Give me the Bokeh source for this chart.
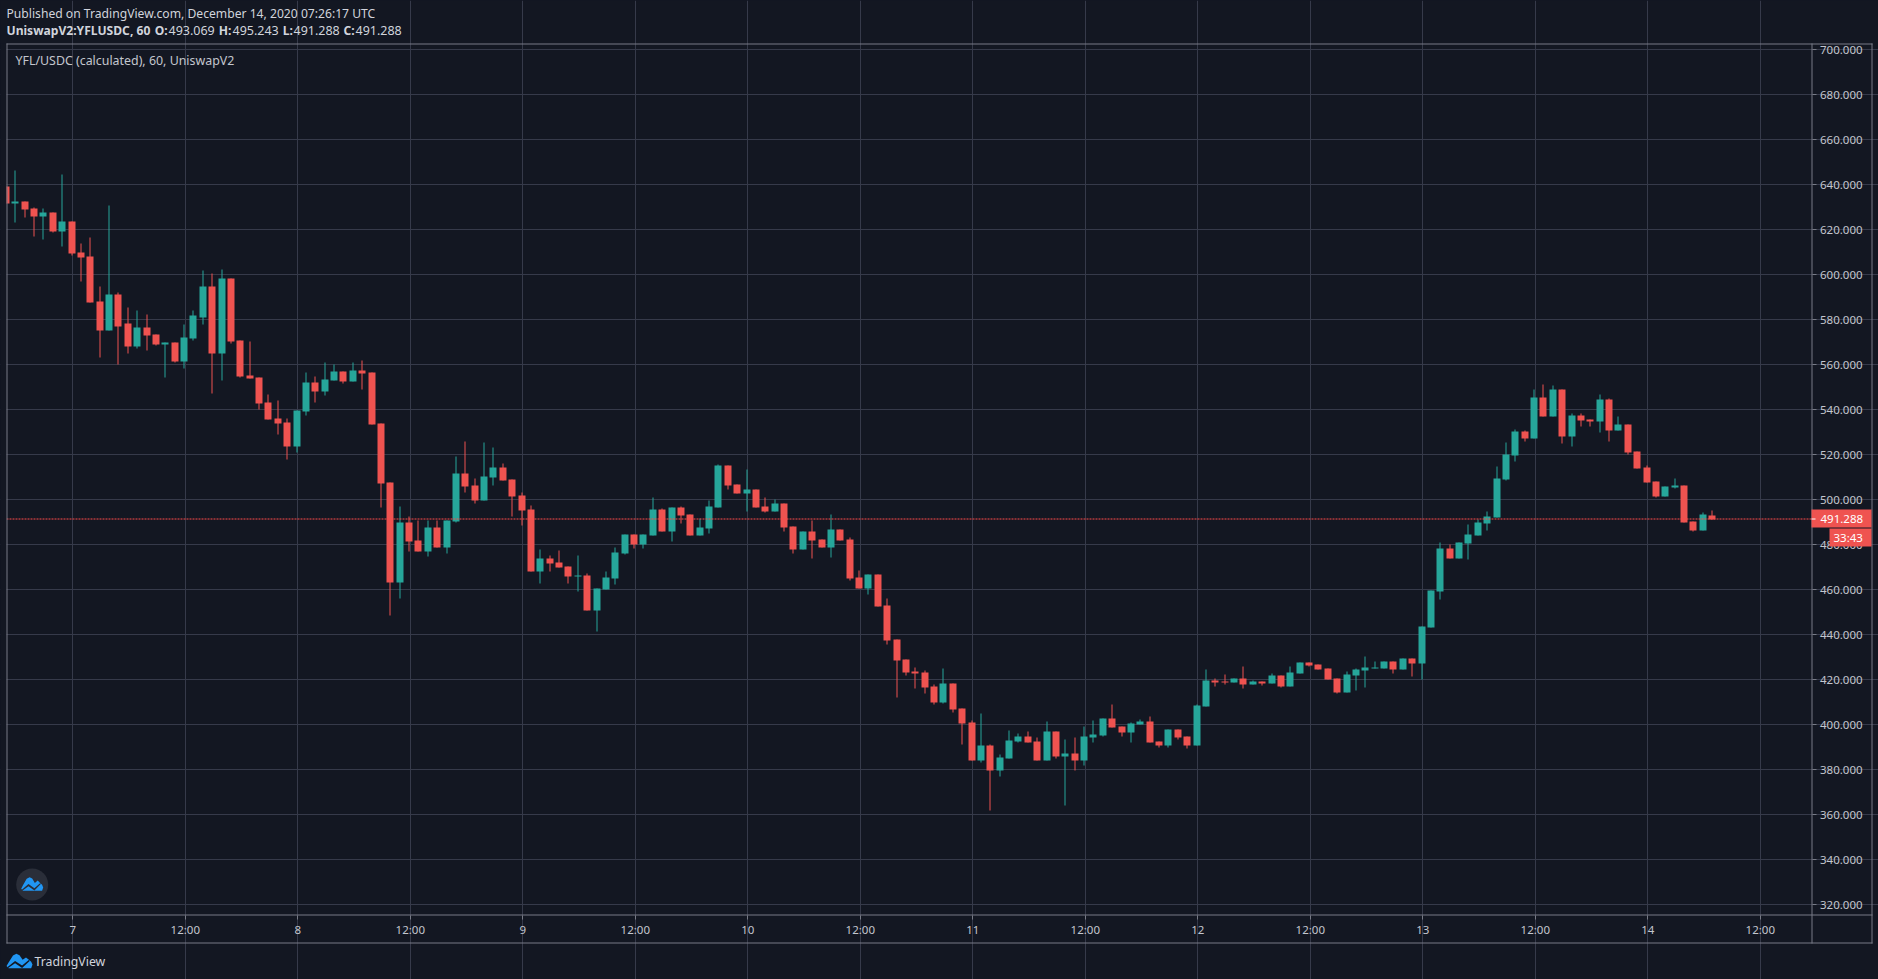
import math
from bokeh.plotting import figure
from bokeh.embed import file_html
from bokeh.resources import INLINE
from bokeh.models import (Range1d, FixedTicker, NumeralTickFormatter, Label,
                          BoxAnnotation, PolyAnnotation)

# hours relative to 7 December 00:00, one candle per hour
hours = list(range(-7, 176))
opens = [639.3,631.7,632.6,629.5,625.9,627.7,619.3,623.7,610,608.2,588.1,575.2,591.3,578.4,568.1,576.6,573.5,569.1,570,561.6,571.8,581,594.9,565,598.4,570.7,555.2,554.3,543.2,536.1,534.3,523.7,539.2,552.1,548.1,553,557,552.6,557.5,556.6,533.9,507.8,463.4,490,482,477.1,487.8,478.9,490.5,511.8,506.4,499.7,509.9,514.4,509,501.9,495.7,468.2,473.9,472.2,470.4,466,466.4,450.9,460.2,465.1,476.2,484.6,480.2,484.2,495.7,485.9,496.6,493.5,484.2,487.3,496.6,515.2,506.8,502.8,504.6,497,494.8,498.4,488.2,478,485.9,482.4,478.8,486.8,482.4,465.5,460.6,466.8,453.1,438,429.1,423.8,423.3,417,409.9,418.4,407.3,401.1,384.2,390.8,379.7,385.1,392.6,394.8,392.6,384.2,397.1,386,387.3,384.2,394.4,395.3,402.8,399.3,396.6,400.2,401.5,392.6,390.8,397.9,394.8,390.8,408.2,419.7,419.3,418.8,420.6,417.9,419.3,418.4,421.9,417,422.8,427.7,426.8,425,420.6,414.4,421.9,424.2,425.1,425.1,428.2,424.7,429.6,427.3,443.3,459.3,478.4,474,480.6,484.2,489.5,492.2,509,519.7,530.3,527.2,545.4,537,549,528.1,537.4,535.7,534.8,544.5,530.8,533.4,521.5,514.4,508.1,501.5,505.5,506.4,490.4,486.4,493.069]
highs = [639.3,646.4,632.6,630,629.5,627.7,644.6,623.7,614,616.6,594.9,630.8,592.2,585.6,584.2,582.4,573.5,570,570,577.9,584.2,602,600.5,602.4,598.4,570.7,570.3,554.3,546.7,544.1,536.1,539.7,556.6,554.8,561.1,560.2,557,561.1,561.9,556.6,533.9,507.8,497.1,492.7,490.9,490.9,490.9,490.9,519.3,525.9,509.5,525.5,523.2,516.1,509,503.3,497.5,477.9,475.3,477.5,470.4,475.3,467.3,460.6,468.2,478.8,484.6,484.6,484.6,501,496.2,496.6,497,493.5,491.7,499.7,515.7,515.2,506.8,513.5,504.6,501,500.1,498.4,488.2,485.9,490.8,482.4,493.5,486.8,483.3,468.6,466.8,466.8,456.2,438,429.1,425.6,424.1,417.9,425,418.4,407.3,402,405,391.4,386.8,397.5,396.2,397.1,394.4,401.5,397.1,393.5,394.4,399.3,401.9,402.8,409,399.3,401,402.4,403.7,392.6,397.9,397.9,394.8,409,424.6,420.6,422.4,420.6,425.9,419.7,419.3,422.8,421.9,425.9,427.7,427.7,426.8,425,420.6,423.7,425.1,430.4,428.2,428.2,428.2,429.6,429.6,443.8,459.7,481.1,480.2,481.1,489,491.3,494.8,514.8,525.5,531.2,530.8,549,551.2,550.8,549,538.3,538.3,535.7,546.8,545,537,533.4,521.5,515.2,508.1,505.9,509.5,506.4,490.4,494.4,495.243]
lows = [631.9,623.4,625.5,617.1,615.7,618.8,612.6,608.6,597.1,587.7,563.3,575.2,560.1,565,567.3,566.4,568.6,554.5,561.1,558.5,570.9,577.9,547.2,553,569.4,554.3,553.9,540,535.6,529,517.9,521,537.5,543.2,546.4,553,551.7,552.6,549.1,533.5,496.7,448.6,456.3,477.1,477.1,474.9,478.9,476.2,490,503.3,498.4,499.7,506.4,508.6,492.6,488.6,468.2,462.9,468.2,470,462.9,459.3,450.9,441.5,460.2,462.4,475.7,478.4,478.4,484.2,485.9,481.5,489.5,484.2,484.2,485.1,496.6,504.6,502.8,494.8,496.6,494.4,494.8,485.9,476.2,478,474,478.8,474.4,481.9,464.2,460.6,458,452.6,435.8,412.2,422,416.3,413.9,409,409.5,405.5,391.3,384.2,383.3,362,377.1,385.1,392.2,392.2,384.2,384.2,385.1,364.2,379.7,382,392.2,394.8,398.8,394.8,392.2,400.2,392.2,390,390,393.5,389.5,390.8,408.2,417,417.9,418.8,416.2,417.9,417.5,418.4,416.6,417,422.8,425.9,424.6,420.1,413.9,414.4,415.3,416.7,425.1,425.1,422.9,424.7,421.6,420.2,443.3,455.7,474,474,473.5,484.2,486.4,492.2,508.6,517,525.9,527.2,537,537,525,523.7,532.6,532.6,529.9,525.9,530.8,520.1,513.9,507.7,501,501.5,505,489.9,485.9,486.4,491.288]
closes = [631.9,632.6,629,625.9,627.7,619.3,623.7,609.5,607.7,587.7,575.2,591.3,577.2,568.1,576.6,573.1,569.1,570,561.6,572.2,582,594.9,565,598.4,570.3,554.8,553.9,542.7,535.6,533.9,523.7,539.7,552.1,548.1,553.5,557,552.6,557.5,556.2,533.5,507.3,463.4,490,481.6,477.1,487.8,478.9,490.9,511.8,505.9,499.7,510.4,514.4,508.6,501.5,495.3,468.2,473.9,471.7,470,466,466.4,450.9,460.6,465.5,476.6,484.6,480.2,484.6,495.7,485.9,496.6,493,484.2,487.7,497,515.2,506.4,502.8,504.6,496.6,494.8,498.4,487.7,478,485.9,481.9,478.8,486.8,481.9,465.1,460.6,466.8,452.6,437.5,428.7,423.3,422.9,416.6,409.9,418.4,406.8,400.6,384.2,390.8,379.7,385.5,393.1,394.8,392.2,384.2,397.1,386,387.3,384.2,394.8,395.7,402.8,398.8,396.6,400.6,401.5,392.2,390.8,397.9,394.4,390.8,408.6,419.7,418.8,418.8,420.6,417.9,419.3,418.4,421.9,417,423.3,427.7,426.4,424.6,420.1,414.4,422.4,424.7,425.6,425.6,428.2,424.7,429.6,427.3,443.8,459.7,478.4,474,481.1,484.6,489.9,492.6,509.5,520.1,530.3,527.2,545.4,537,549,528.1,537.4,535.2,534.8,544.5,530.8,533.4,521,513.9,507.7,501.5,505.9,506.4,489.9,486.4,493.5,491.288]
last_price = 491.288

price_ticks = list(range(320, 701, 20))
time_ticks = list(range(0, 181, 12))
time_labels = ["7", "12:00", "8", "12:00", "9", "12:00", "10", "12:00", "11", "12:00",
               "12", "12:00", "13", "12:00", "14", "12:00"]

BG, UP, DOWN = "#131722", "#26a69a", "#ef5350"
GRID, BORDER, TEXT = "#363a4a", "#787b86", "#c3c6ce"
FONT = "Noto Sans"

# page geometry (pixels)
W, H = 1878, 979
F_L, F_T, F_R, F_B = 6, 43, 1811, 914
O_R, O_B = 1871, 942
PX = 2.25          # pixels per price unit
PH = 9.375         # pixels per hour
X0, Y700 = 72.3, 49.3

x_d = lambda px: (px - X0) / PH
y_d = lambda py: 700 - (py - Y700) / PX
x_p = lambda h: X0 + h * PH
y_p = lambda v: Y700 + (700 - v) * PX
snap_x = lambda h: x_d(math.floor(x_p(h) - 1.2) + 0.5)      # centre of the pixel column
snap_y = lambda v: y_d(round(y_p(v)))                        # pixel row boundary

p = figure(width=W, height=H, output_backend="svg", toolbar_location=None,
           x_range=Range1d(x_d(0), x_d(W)), y_range=Range1d(y_d(H), y_d(0)),
           y_axis_location="right",
           min_border_left=0, min_border_top=0, min_border_right=0, min_border_bottom=0,
           background_fill_color=BG, border_fill_color=BG, outline_line_color=None)

xa, ya = p.xaxis[0], p.yaxis[0]
for ax in (xa, ya):
    ax.axis_line_color = None
    ax.major_tick_line_color = BORDER
    ax.minor_tick_line_color = None
    ax.major_tick_in = 0
    ax.major_tick_out = 4
    ax.major_label_text_color = TEXT
    ax.major_label_text_font = FONT
    ax.major_label_text_font_size = "11.5px"
ya.ticker = FixedTicker(ticks=price_ticks)
ya.formatter = NumeralTickFormatter(format="0.000")
ya.major_label_standoff = 4
ya.fixed_location = x_d(F_R + 0.5)
ya.bounds = (y_d(F_B), y_d(F_T))
xa.ticker = FixedTicker(ticks=time_ticks)
xa.major_label_overrides = dict(zip(time_ticks, time_labels))
xa.major_label_standoff = 3
xa.fixed_location = y_d(F_B + 0.5)
xa.bounds = (x_d(F_L), x_d(F_R))
p.xgrid[0].grid_line_color = GRID
p.ygrid[0].grid_line_color = GRID
p.xgrid[0].bounds = (y_d(F_B), y_d(F_T))
p.ygrid[0].bounds = (x_d(F_L), x_d(F_R))

xs = [snap_x(h) for h in hours]
colors = [UP if c >= o else DOWN for o, c in zip(opens, closes)]
p.segment(xs, [snap_y(v) for v in highs], xs, [snap_y(v) for v in lows], line_color=colors, line_width=1)
p.vbar(x=xs, width=7 / PH, top=[snap_y(max(o, c)) for o, c in zip(opens, closes)],
       bottom=[snap_y(min(o, c)) for o, c in zip(opens, closes)],
       fill_color=colors, line_color=None)

p.line([x_d(F_L), x_d(F_R)], [y_d(math.floor(y_p(last_price)) + 0.5)] * 2,
       line_color="#ff4a4a", line_width=1, line_dash="2 1")


def text(x, y, s, color=TEXT, size="12px", bold=False, align="left"):
    p.add_layout(Label(x=x, y=H - y, x_units="screen", y_units="screen", text=s,
                       text_color=color, text_font=FONT, text_font_size=size,
                       text_font_style="bold" if bold else "normal",
                       text_baseline="middle", text_align=align))


def box(l, t, r, b, fill):
    p.add_layout(BoxAnnotation(left=l, right=r, top=H - t, bottom=H - b,
                               left_units="screen", right_units="screen",
                               top_units="screen", bottom_units="screen",
                               fill_color=fill, fill_alpha=1, line_color=None))


def poly(pts, fill):
    p.add_layout(PolyAnnotation(xs=[a for a, _ in pts], ys=[H - b for _, b in pts],
                                xs_units="screen", ys_units="screen",
                                fill_color=fill, fill_alpha=1, line_color=None))


CLOUD = [(0, .85), (.08, .6), (.25, .12), (.38, 0), (.5, .1), (.62, .42), (.75, .25), (.85, .4),
         (.95, .55), (1, .75), (.95, 1), (.08, 1)]
ZIG = [(.03, .93), (.33, .5), (.6, .82), (.87, .42), (.89, .5), (.6, .98), (.33, .66), (.05, 1)]


def logo(l, t, r, b, zig):
    w, h = r - l, b - t
    poly([(l + u * w, t + v * h) for u, v in CLOUD], "#2196f3")
    poly([(l + u * w, t + v * h) for u, v in ZIG], zig)


# mask of what leaves the pane on the left, then borders as one-pixel boxes
box(0, F_T, F_L, F_B, BG)
box(F_L, F_T, O_R + 1, F_T + 1, BORDER)
box(F_L, F_B, O_R + 1, F_B + 1, BORDER)
box(F_L, O_B, O_R + 1, O_B + 1, BORDER)
box(F_L, F_T, F_L + 1, O_B + 1, BORDER)
box(F_R, F_T, F_R + 1, O_B + 1, BORDER)
box(O_R, F_T, O_R + 1, O_B + 1, BORDER)

# price labels
box(F_R, 509, O_R, 527, DOWN)
box(1829, 528, O_R, 546, DOWN)
box(F_R, 518, F_R + 4, 519, "#ffffff")
text(1820, 518.5, "491.288", color="#ffffff", size="11.5px")
text(1833, 537, "33:43", color="#ffffff", size="11.5px")

# header
HEAD = "#d1d4dc"
text(6, 12.5, "Published on TradingView.com, December 14, 2020 07:26:17 UTC", color=HEAD, size="12.15px")
Y2 = 29.5
text(6, Y2, "UniswapV2:YFLUSDC, 60", color=HEAD, size="12.1px", bold=True)
for x, s, b in [(154.3, "O:", True), (168, "493.069", False), (218.3, "H:", True), (232, "495.243", False),
                (282.3, "L:", True), (293, "491.288", False), (343, "C:", True), (355, "491.288", False)]:
    text(x, Y2, s, color=HEAD, size="12.1px" if b else "12.5px", bold=b)
text(15, 60, "YFL/USDC (calculated), 60, UniswapV2", size="12.4px")

# watermarks
p.scatter([x_d(31.7)], [y_d(884)], size=32, marker="circle", fill_color="#2a2e39", line_color=None)
logo(20.7, 876.7, 42.7, 890.3, "#2a2e39")
logo(6, 953.3, 32, 967.7, BG)
text(34, 961, "TradingView", color=HEAD, size="12.3px")

html = file_html(p, INLINE)
html = html.replace("<head>", "<head><style>html,body{margin:0;padding:0;overflow:hidden;background:#131722}</style>", 1)
open("out.html", "w").write(html)
